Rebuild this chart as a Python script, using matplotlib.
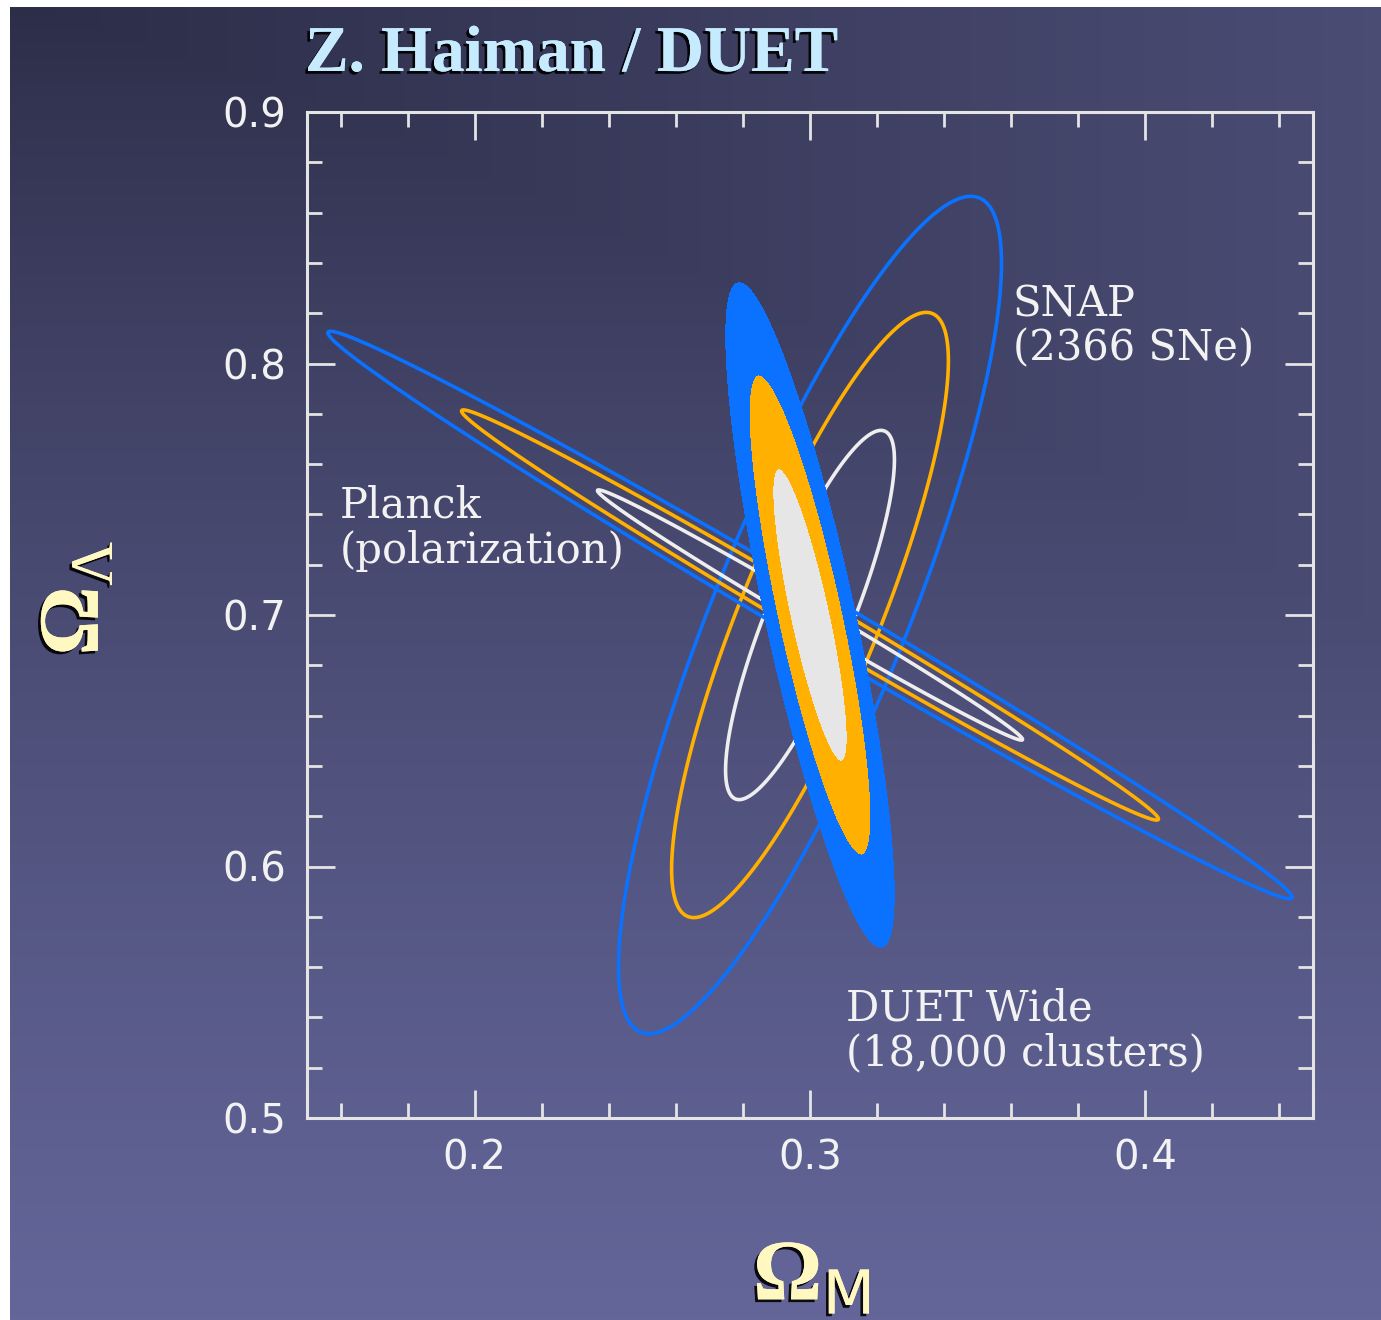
import numpy as np
import matplotlib
matplotlib.use("Agg")
import matplotlib.pyplot as plt
import matplotlib.patheffects as pe
from matplotlib.ticker import MultipleLocator, FormatStrFormatter

# Fisher-style constraints (1, 2, 3 sigma 2D contours)
probe_names = ["Planck", "SNAP", "DUET"]
center_om = [0.300, 0.300, 0.300]
center_ol = [0.700, 0.700, 0.700]
sigma_om = [0.0418, 0.0166, 0.0073]
sigma_ol = [0.0328, 0.0484, 0.0384]
corr = [-0.9946, 0.84, -0.84]
dchi2_levels = [2.30, 6.18, 11.83]

label_text = ["Planck\n(polarization)", "SNAP\n(2366 SNe)", "DUET Wide\n(18,000 clusters)"]
x_ticks = [0.2, 0.3, 0.4]
y_ticks = [0.5, 0.6, 0.7, 0.8, 0.9]

blue = "#0a72ff"
orange = "#ffb000"
white = "#eeeeee"

plt.rcParams["mathtext.fontset"] = "custom"
plt.rcParams["mathtext.rm"] = "Liberation Serif"
plt.rcParams["mathtext.bf"] = "Liberation Serif:bold"
plt.rcParams["mathtext.sf"] = "DejaVu Sans"


def chi2_grid(X, Y, cx, cy, sx, sy, r):
    dx = (X - cx) / sx
    dy = (Y - cy) / sy
    return (dx * dx - 2 * r * dx * dy + dy * dy) / (1 - r * r)


fig = plt.figure(figsize=(13.81, 13.2), dpi=100, facecolor="white")

# background gradient
bg = fig.add_axes([10 / 1381, 0, 1 - 10 / 1381, 1 - 7 / 1320], zorder=-5)
u, v = np.meshgrid(np.linspace(0, 1, 300), np.linspace(0, 1, 300))
t = np.maximum(0.55 * u, v ** 0.8)
dark = np.array([44, 45, 71]) / 255
light = np.array([100, 102, 154]) / 255
img = dark + t[..., None] * (light - dark)
bg.imshow(img, extent=[0, 1, 1, 0], aspect="auto")
bg.set_xlim(0, 1)
bg.set_ylim(1, 0)
bg.axis("off")

ax = fig.add_axes([307 / 1381, 1 - 1118 / 1320, 1006 / 1381, 1006 / 1320])
ax.patch.set_alpha(0)

xs = np.linspace(0.15, 0.45, 1600)
ys = np.linspace(0.5, 0.9, 1600)
X, Y = np.meshgrid(xs, ys)

for i in [1, 0]:  # SNAP first, Planck over it
    c2 = chi2_grid(X, Y, center_om[i], center_ol[i], sigma_om[i], sigma_ol[i], corr[i])
    ax.contour(X, Y, c2, levels=dchi2_levels, colors=[white, orange, blue],
               linewidths=2.6, zorder=2)

c2 = chi2_grid(X, Y, center_om[2], center_ol[2], sigma_om[2], sigma_ol[2], corr[2])
ax.contourf(X, Y, c2, levels=[0] + dchi2_levels, colors=["#e6e6e6", orange, blue],
            zorder=4)

ax.set_xlim(0.15, 0.45)
ax.set_ylim(0.5, 0.9)
ax.set_xticks(x_ticks)
ax.set_yticks(y_ticks)
ax.xaxis.set_minor_locator(MultipleLocator(0.02))
ax.yaxis.set_minor_locator(MultipleLocator(0.02))
ax.xaxis.set_major_formatter(FormatStrFormatter("%.1f"))
ax.yaxis.set_major_formatter(FormatStrFormatter("%.1f"))
ax.tick_params(which="both", direction="in", top=True, right=True,
               color="#e4e4e4", width=2, labelcolor="#f2f2f2",
               labelsize=29, pad=15)
ax.tick_params(which="major", length=20)
ax.tick_params(which="minor", length=11)
for s in ax.spines.values():
    s.set_color("#e4e4e4")
    s.set_linewidth(2.2)
    s.set_zorder(5)

# probe labels
lab_pos = [(0.1599, 0.7517), (0.3604, 0.8320), (0.3106, 0.5517)]
for txt, (lx, ly) in zip(label_text, lab_pos):
    ax.text(lx, ly, txt, ha="left", va="top", fontsize=30, color="#f2f2f2",
            family="DejaVu Serif", linespacing=1.08, zorder=6)

shadow = [pe.withSimplePatchShadow(offset=(-2, -2), shadow_rgbFace="black", alpha=0.9),
          pe.Normal()]

fig.text(305 / 1381, 1 - 55 / 1320, "Z. Haiman / DUET", ha="left", va="center",
         family="Liberation Serif", weight="bold", fontsize=47, color="#c6ebff",
         path_effects=shadow)

fig.text(812 / 1381, 20 / 1320, r"$\mathbf{\Omega}_{\mathsf{M}}$", ha="center",
         va="baseline", fontsize=62, color="#fff8c0", path_effects=shadow)
fig.text(75 / 1381, 1 - 598 / 1320, r"$\mathbf{\Omega}_{\mathrm{\Lambda}}$", ha="center",
         va="center", rotation=90, fontsize=62, color="#fff8c0", path_effects=shadow)

fig.savefig("out.png", dpi=100, facecolor="white")
